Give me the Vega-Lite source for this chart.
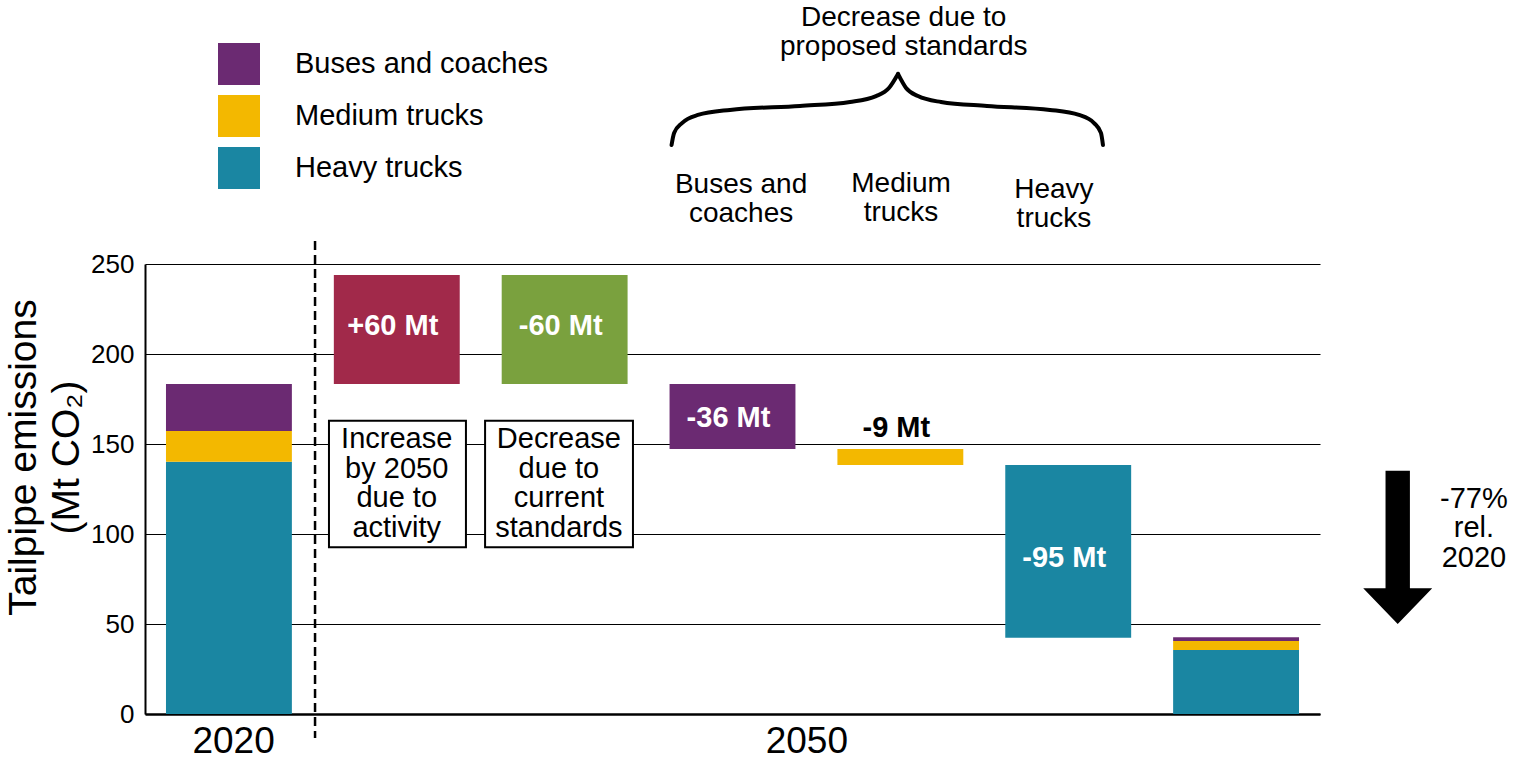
{
  "$schema": "https://vega.github.io/schema/vega-lite/v6.json",
  "width": 1175,
  "height": 450,
  "autosize": {"type": "none"},
  "padding": {"left": 145, "top": 264, "right": 198, "bottom": 47},
  "background": "white",
  "config": {
    "view": {"stroke": null},
    "font": "Liberation Sans",
    "axis": {"labelFont": "Liberation Sans", "titleFont": "Liberation Sans"},
    "legend": {"labelFont": "Liberation Sans"}
  },
  "datasets": {
    "bars": [
      {"stage": "2020", "category": "Heavy trucks", "start": 0, "end": 140.2},
      {"stage": "2020", "category": "Medium trucks", "start": 140.2, "end": 157.2},
      {"stage": "2020", "category": "Buses and coaches", "start": 157.2, "end": 183.3},
      {"stage": "Activity", "category": "Increase due to activity", "start": 183.3, "end": 243.9},
      {"stage": "Current", "category": "Decrease due to current standards", "start": 243.9, "end": 183.3},
      {"stage": "Buses", "category": "Buses and coaches", "start": 183.3, "end": 147.2},
      {"stage": "Medium", "category": "Medium trucks", "start": 147.2, "end": 138.3},
      {"stage": "Heavy", "category": "Heavy trucks", "start": 138.3, "end": 42.4},
      {"stage": "2050", "category": "Heavy trucks", "start": 0, "end": 35.6},
      {"stage": "2050", "category": "Medium trucks", "start": 35.6, "end": 40.6},
      {"stage": "2050", "category": "Buses and coaches", "start": 40.6, "end": 42.6}
    ],
    "labels": [
      {"stage": "Activity", "label": "+60 Mt", "at": 210.6},
      {"stage": "Current", "label": "-60 Mt", "at": 210.6},
      {"stage": "Buses", "label": "-36 Mt", "at": 159.6},
      {"stage": "Medium", "label": "-9 Mt", "at": 154.1},
      {"stage": "Heavy", "label": "-95 Mt", "at": 81.8}
    ],
    "brace": [
      {"side": "left", "bx": 3.137, "by": 316.1},
      {"side": "left", "bx": 3.152, "by": 322.8},
      {"side": "left", "bx": 3.199, "by": 328.3},
      {"side": "left", "bx": 3.294, "by": 332.8},
      {"side": "left", "bx": 3.485, "by": 335.6},
      {"side": "left", "bx": 3.902, "by": 337.8},
      {"side": "left", "bx": 4.2, "by": 340.0},
      {"side": "left", "bx": 4.355, "by": 343.3},
      {"side": "left", "bx": 4.432, "by": 347.8},
      {"side": "left", "bx": 4.486, "by": 355.6},
      {"side": "right", "bx": 4.486, "by": 355.6},
      {"side": "right", "bx": 4.534, "by": 347.8},
      {"side": "right", "bx": 4.605, "by": 343.3},
      {"side": "right", "bx": 4.742, "by": 340.0},
      {"side": "right", "bx": 5.016, "by": 337.8},
      {"side": "right", "bx": 5.391, "by": 335.6},
      {"side": "right", "bx": 5.564, "by": 332.8},
      {"side": "right", "bx": 5.654, "by": 328.3},
      {"side": "right", "bx": 5.695, "by": 322.8},
      {"side": "right", "bx": 5.707, "by": 316.1}
    ]
  },
  "layer": [
    {
      "layer": [
        {
          "data": {"name": "bars"},
          "mark": {"type": "bar"},
          "encoding": {
            "x": {
              "field": "stage",
              "type": "nominal",
              "scale": {
                "domain": ["2020", "Activity", "Current", "Buses", "Medium", "Heavy", "2050"],
                "paddingInner": 0.25,
                "paddingOuter": 0.125
              },
              "axis": null
            },
            "y": {
              "field": "start",
              "type": "quantitative",
              "scale": {"domain": [0, 250], "nice": false, "zero": true},
              "title": ["Tailpipe emissions", "(Mt CO₂)"],
              "axis": {
                "values": [0, 50, 100, 150, 200, 250],
                "grid": true,
                "gridColor": "black",
                "gridWidth": 1.2,
                "gridOpacity": 1,
                "domainColor": "black",
                "domainWidth": 2,
                "ticks": false,
                "tickSize": 0,
                "labelPadding": 11,
                "labelFontSize": 26,
                "labelColor": "black",
                "titleFontSize": 39,
                "titleFontWeight": "normal",
                "titleColor": "black",
                "titleAngle": -90,
                "titleAlign": "center",
                "titleBaseline": "alphabetic",
                "titleX": -110,
                "titleY": 193,
                "titleLineHeight": 43
              }
            },
            "y2": {"field": "end"},
            "color": {
              "field": "category",
              "type": "nominal",
              "scale": {
                "domain": ["Buses and coaches", "Medium trucks", "Heavy trucks", "Increase due to activity", "Decrease due to current standards"],
                "range": ["#6b2a72", "#f3b800", "#1a86a2", "#a1294a", "#7aa13e"]
              },
              "legend": {
                "values": ["Buses and coaches", "Medium trucks", "Heavy trucks"],
                "title": null,
                "orient": "none",
                "legendX": 73,
                "legendY": -221,
                "symbolType": "square",
                "symbolSize": 1764,
                "symbolOpacity": 1,
                "symbolStrokeWidth": 0,
                "labelFontSize": 29,
                "labelColor": "black",
                "labelOffset": 35,
                "labelLimit": 500,
                "rowPadding": 10,
                "padding": 0
              }
            }
          }
        },
        {
          "data": {"name": "labels"},
          "mark": {"type": "text", "fontSize": 29, "fontWeight": "bold", "align": "center", "baseline": "alphabetic", "dx": -4},
          "encoding": {
            "x": {"field": "stage", "type": "nominal"},
            "y": {"field": "at", "type": "quantitative", "title": ["Tailpipe emissions", "(Mt CO₂)"]},
            "text": {"field": "label"},
            "color": {"condition": {"test": "datum.label === '-9 Mt'", "value": "black"}, "value": "white"}
          }
        }
      ]
    },
    {
      "data": {"values": [{}]},
      "layer": [
        {
          "mark": {"type": "rule", "strokeDash": [9, 5], "strokeWidth": 2.5, "color": "black"},
          "encoding": {
            "x": {
              "datum": 1.013,
              "type": "quantitative",
              "scale": {"domain": [0, 7], "nice": false, "zero": false},
              "title": null,
              "axis": {
                "orient": "bottom",
                "values": [0.525, 3.94],
                "labelExpr": "datum.value < 1 ? '2020' : '2050'",
                "ticks": false,
                "tickSize": 0,
                "grid": false,
                "domainColor": "black",
                "domainWidth": 2.5,
                "labelFontSize": 37,
                "labelColor": "black",
                "labelPadding": 9,
                "labelFlush": false,
                "labelOverlap": false
              }
            },
            "y": {"datum": 262.8, "type": "quantitative"},
            "y2": {"datum": -13.3}
          }
        },
        {
          "mark": {"type": "rect", "fill": "white", "stroke": "black", "strokeWidth": 2},
          "encoding": {
            "x": {"datum": 1.096, "type": "quantitative"},
            "x2": {"datum": 1.912},
            "y": {"datum": 162.9, "type": "quantitative"},
            "y2": {"datum": 92.6}
          }
        },
        {
          "mark": {"type": "rect", "fill": "white", "stroke": "black", "strokeWidth": 2},
          "encoding": {
            "x": {"datum": 2.026, "type": "quantitative"},
            "x2": {"datum": 2.907},
            "y": {"datum": 162.9, "type": "quantitative"},
            "y2": {"datum": 92.6}
          }
        },
        {
          "mark": {"type": "text", "text": ["Increase", "by 2050", "due to", "activity"], "fontSize": 29, "lineHeight": 29.5, "align": "center", "baseline": "alphabetic", "color": "black"},
          "encoding": {
            "x": {"datum": 1.4995, "type": "quantitative"},
            "y": {"datum": 147.6, "type": "quantitative"}
          }
        },
        {
          "mark": {"type": "text", "text": ["Decrease", "due to", "current", "standards"], "fontSize": 29, "lineHeight": 29.5, "align": "center", "baseline": "alphabetic", "color": "black"},
          "encoding": {
            "x": {"datum": 2.466, "type": "quantitative"},
            "y": {"datum": 147.6, "type": "quantitative"}
          }
        },
        {
          "mark": {"type": "text", "text": ["Decrease due to", "proposed standards"], "fontSize": 28, "lineHeight": 29, "align": "center", "baseline": "alphabetic", "color": "black"},
          "encoding": {
            "x": {"datum": 4.52, "type": "quantitative"},
            "y": {"datum": 382.2, "type": "quantitative"}
          }
        },
        {
          "mark": {"type": "text", "text": ["Buses and", "coaches"], "fontSize": 28, "lineHeight": 29, "align": "center", "baseline": "alphabetic", "color": "black"},
          "encoding": {
            "x": {"datum": 3.551, "type": "quantitative"},
            "y": {"datum": 289.3, "type": "quantitative"}
          }
        },
        {
          "mark": {"type": "text", "text": ["Medium", "trucks"], "fontSize": 28, "lineHeight": 29, "align": "center", "baseline": "alphabetic", "color": "black"},
          "encoding": {
            "x": {"datum": 4.504, "type": "quantitative"},
            "y": {"datum": 290.2, "type": "quantitative"}
          }
        },
        {
          "mark": {"type": "text", "text": ["Heavy", "trucks"], "fontSize": 28, "lineHeight": 29, "align": "center", "baseline": "alphabetic", "color": "black"},
          "encoding": {
            "x": {"datum": 5.415, "type": "quantitative"},
            "y": {"datum": 286.4, "type": "quantitative"}
          }
        },
        {
          "data": {"name": "brace"},
          "mark": {"type": "line", "interpolate": "monotone", "strokeWidth": 4, "color": "black", "strokeCap": "round"},
          "encoding": {
            "x": {"field": "bx", "type": "quantitative", "title": null},
            "y": {"field": "by", "type": "quantitative", "title": ["Tailpipe emissions", "(Mt CO₂)"]},
            "detail": {"field": "side", "type": "nominal"}
          }
        },
        {
          "mark": {
            "type": "point",
            "shape": "M-0.159,-1L0.159,-1L0.159,0.535L0.45,0.535L0,1L-0.45,0.535L-0.159,0.535Z",
            "size": 23500,
            "filled": true,
            "color": "black",
            "opacity": 1,
            "strokeWidth": 0
          },
          "encoding": {
            "x": {"datum": 7.463, "type": "quantitative"},
            "y": {"datum": 92.6, "type": "quantitative"}
          }
        },
        {
          "mark": {"type": "text", "text": ["-77%", "rel.", "2020"], "fontSize": 29, "lineHeight": 29.2, "align": "center", "baseline": "alphabetic", "color": "black"},
          "encoding": {
            "x": {"datum": 7.917, "type": "quantitative"},
            "y": {"datum": 114.3, "type": "quantitative"}
          }
        }
      ]
    }
  ],
  "resolve": {"scale": {"x": "independent"}}
}
